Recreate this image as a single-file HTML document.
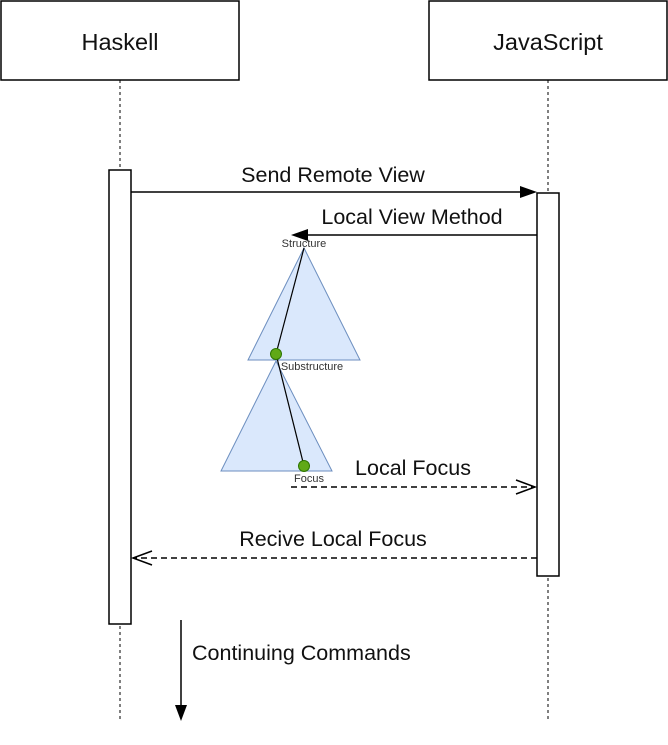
<!DOCTYPE html>
<html><head><style>html,body{margin:0;padding:0;background:#fff}</style></head><body>
<svg width="668" height="740" xmlns="http://www.w3.org/2000/svg" font-family="Liberation Sans, sans-serif">
<rect x="1" y="1" width="238" height="79" fill="#fff" stroke="#000" stroke-width="1.5"/>
<text x="120" y="50" font-size="23.5" text-anchor="middle" fill="#111">Haskell</text>
<rect x="429" y="1" width="238" height="79" fill="#fff" stroke="#000" stroke-width="1.5"/>
<text x="548" y="50" font-size="23.5" text-anchor="middle" fill="#111">JavaScript</text>
<line x1="120" y1="80" x2="120" y2="722" stroke="#000" stroke-dasharray="3,3"/>
<line x1="548" y1="80" x2="548" y2="722" stroke="#000" stroke-dasharray="3,3"/>
<rect x="109" y="170" width="22" height="454" fill="#fff" stroke="#000" stroke-width="1.5"/>
<rect x="537" y="193" width="22" height="383" fill="#fff" stroke="#000" stroke-width="1.5"/>
<line x1="131" y1="192" x2="522" y2="192" stroke="#000" stroke-width="1.5"/>
<polygon points="537,192 520,186 520,198" fill="#000"/>
<text x="333" y="182" font-size="21.5" text-anchor="middle" fill="#111">Send Remote View</text>
<line x1="537" y1="235" x2="305" y2="235" stroke="#000" stroke-width="1.5"/>
<polygon points="291,235 308,229 308,241" fill="#000"/>
<text x="412" y="224" font-size="21.5" text-anchor="middle" fill="#111">Local View Method</text>
<polygon points="304,248 360,360 248,360" fill="#dae8fc" stroke="#6c8ebf"/>
<polygon points="276,361 332,471 221,471" fill="#dae8fc" stroke="#6c8ebf"/>
<line x1="304" y1="248" x2="276" y2="354" stroke="#000" stroke-width="1.2"/>
<line x1="276" y1="354" x2="304" y2="466" stroke="#000" stroke-width="1.2"/>
<circle cx="276" cy="354" r="5.5" fill="#60a917" stroke="#2d7600"/>
<circle cx="304" cy="466" r="5.5" fill="#60a917" stroke="#2d7600"/>
<text x="304" y="247" font-size="11" fill="#333" text-anchor="middle">Structure</text>
<text x="312" y="370" font-size="11" fill="#333" text-anchor="middle">Substructure</text>
<text x="309" y="482" font-size="11" fill="#333" text-anchor="middle">Focus</text>
<line x1="291" y1="487" x2="535" y2="487" stroke="#000" stroke-width="1.5" stroke-dasharray="6,4"/>
<polyline points="516,480 535,487 516,494" fill="none" stroke="#000" stroke-width="1.5"/>
<text x="413" y="475" font-size="21.5" text-anchor="middle" fill="#111">Local Focus</text>
<line x1="537" y1="558" x2="133" y2="558" stroke="#000" stroke-width="1.5" stroke-dasharray="6,4"/>
<polyline points="152,551 133,558 152,565" fill="none" stroke="#000" stroke-width="1.5"/>
<text x="333" y="546" font-size="21.5" text-anchor="middle" fill="#111">Recive Local Focus</text>
<line x1="181" y1="620" x2="181" y2="708" stroke="#000" stroke-width="1.5"/>
<polygon points="181,721 175,705 187,705" fill="#000"/>
<text x="192" y="660" font-size="21.5" fill="#111">Continuing Commands</text>
</svg>
</body></html>
